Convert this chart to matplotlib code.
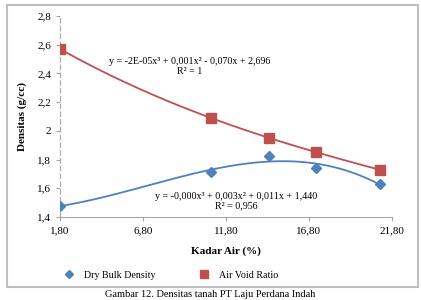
import matplotlib
matplotlib.use("Agg")
import matplotlib.pyplot as plt
import numpy as np
from matplotlib.patches import Rectangle
from matplotlib.ticker import FuncFormatter

plt.rcParams["font.family"] = ["Liberation Serif", "DejaVu Serif"]

kadar_air = [1.8, 10.9, 14.4, 17.2, 21.1]
dry_bulk = [1.477, 1.714, 1.825, 1.742, 1.630]
air_void = [2.570, 2.090, 1.950, 1.853, 1.728]
x_ticks = [1.8, 6.8, 11.8, 16.8, 21.8]
y_ticks = [1.4, 1.6, 1.8, 2.0, 2.2, 2.4, 2.6, 2.8]

blue = "#4f81bd"
red = "#c0504d"

fig = plt.figure(figsize=(4.21, 3.0), dpi=100)
ax = fig.add_axes([0.1425, 0.2767, 0.7885, 0.67])

# polynomial trendlines (order 3)
xs = np.linspace(min(kadar_air), max(kadar_air), 200)
for series, color in [(dry_bulk, blue), (air_void, red)]:
    coef = np.polyfit(kadar_air, series, 3)
    ax.plot(xs, np.polyval(coef, xs), color=color, lw=1.3, zorder=2)

ax.plot(kadar_air, dry_bulk, ls="none", marker="D", ms=5, color=blue,
        label="Dry Bulk Density", zorder=3)
ax.plot(kadar_air, air_void, ls="none", marker="s", ms=7.5, color=red,
        label="Air Void Ratio", zorder=3)

ax.set_xlim(1.8, 21.8)
ax.set_ylim(1.4, 2.8)
ax.set_xticks(x_ticks)
ax.set_yticks(y_ticks)


def comma(v, decimals):
    s = f"{v:.{decimals}f}".replace(".", ",")
    return s


ax.xaxis.set_major_formatter(FuncFormatter(lambda v, p: comma(v, 2)))
ax.yaxis.set_major_formatter(FuncFormatter(
    lambda v, p: "2" if abs(v - 2) < 1e-9 else comma(v, 1)))

for s in ["top", "right"]:
    ax.spines[s].set_visible(False)
ax.spines["left"].set_color("#a6a6a6")
ax.spines["left"].set_linestyle((0, (4, 3)))
ax.spines["bottom"].set_color("#a6a6a6")
ax.tick_params(axis="both", colors="#a6a6a6", labelcolor="black",
               labelsize=8, length=3)

ax.set_xlabel("Kadar Air (%)", fontsize=8, fontweight="bold", labelpad=8)
ax.set_ylabel("Densitas (g/cc)", fontsize=8, fontweight="bold", labelpad=7)

ax.text(0.39, 0.75, "y = -2E-05x³ + 0,001x² - 0,070x + 2,696\nR² = 1",
        transform=ax.transAxes, ha="center", va="center", fontsize=7.2,
        linespacing=1.1)
ax.text(0.53, 0.08, "y = -0,000x³ + 0,003x² + 0,011x + 1,440\nR² = 0,956",
        transform=ax.transAxes, ha="center", va="center", fontsize=7.2,
        linespacing=1.1)

fig.legend(loc="center", bbox_to_anchor=(0.40, 0.083), ncol=2, frameon=False,
           fontsize=7.2, columnspacing=3.8, handletextpad=0.5, markerscale=0.85)

fig.patches.append(Rectangle((7 / 421, 13 / 300), 411 / 421, 282 / 300,
                             transform=fig.transFigure, fill=False,
                             edgecolor="#bfbfbf", lw=1.5))
fig.text(0.5, 0.004, "Gambar 12. Densitas tanah PT Laju Perdana Indah",
         ha="center", va="bottom", fontsize=7.5)

fig.savefig("out.png", dpi=100)
